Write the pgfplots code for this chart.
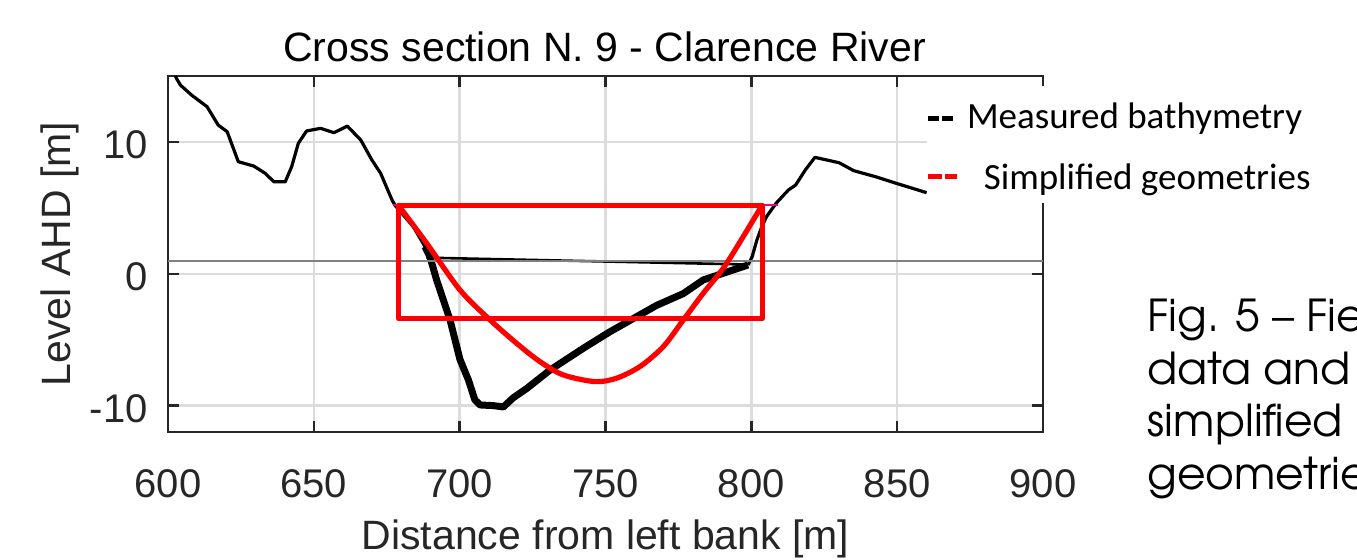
\documentclass[border=0pt]{standalone}
\usepackage{pgfplots}
\pgfplotsset{compat=1.18}
\usepackage{fontspec}
\setmainfont{Liberation Sans}
\newfontfamily\calib{Carlito}
\newfontfamily\gothic{texgyreadventor-regular.otf}
\definecolor{axc}{HTML}{262626}
\definecolor{gridc}{HTML}{DCDCDC}
\begin{document}
\begin{tikzpicture}
\useasboundingbox (0,0) rectangle (678.5pt,280pt);
\begin{scope}
\clip (0,0) rectangle (678.5pt,280pt);
\begin{axis}[
  at={(84pt,64pt)}, anchor=south west,
  scale only axis, width=437.5pt, height=178pt,
  xmin=600, xmax=900, ymin=-12, ymax=15,
  xtick={600,650,700,750,800,850,900}, ytick={-10,0,10},
  xtick pos=both, ytick pos=both,
  grid=major, major grid style={draw=gridc, line width=1.2pt},
  axis line style={draw=axc, line width=1.2pt},
  tick style={draw=axc, line width=1.2pt},
  tick align=inside, major tick length=5.5pt,
  /pgf/number format/assume math mode=true,
  ticklabel style={font=\fontsize{20}{24}\selectfont, text=axc, inner sep=0pt},
  xticklabel style={anchor=base, yshift=-33pt},
  yticklabel style={anchor=east, xshift=-10pt, yshift=-1.5pt},
  clip=true,
]
% measured bathymetry, thin profile
\addplot[black, line width=1.6pt, line join=round] coordinates {
(602.5,15.0) (603.2,14.7) (604.3,14.3) (608.1,13.55) (613.4,12.67) (617.2,11.28)
(620.3,10.77) (624.1,8.5) (629.4,8.17) (633.3,7.62) (636.3,6.98) (640.2,6.98)
(642.4,8.12) (644.7,9.9) (647.5,10.83) (652.3,11.03) (656.9,10.7) (661.5,11.2)
(666.1,10.14) (669.9,8.63) (672.9,7.62) (676.8,5.6) (677.8,5.2) (684.1,3.57)
(688.1,2.06) (689.8,1.3)
};
\addplot[black, line width=1.6pt, line join=round] coordinates {
(798.9,0.67) (800.3,1.3) (801.9,2.56) (803.6,3.57) (805.2,4.33) (808.5,5.35)
(812.7,6.35) (815.2,6.73) (818.5,7.87) (821.8,8.83) (830.1,8.42) (835.1,7.82)
(842.6,7.36) (849.1,6.9) (860.1,6.15)
};
% water surface inside the channel
\addplot[black, line width=1.3pt] coordinates {(688.6,1.22) (798.9,0.7)};
% wetted channel, thick
\addplot[black, line width=3.5pt, line join=round] coordinates {
(688.1,2.06) (689.8,1.3) (692.1,-0.47) (696.7,-3.5) (700.1,-6.5) (703,-8.05)
(705.2,-9.56) (707,-9.95) (711.5,-10.0) (715,-10.1) (718.4,-9.4) (723,-8.7)
(731,-7.3) (742.4,-5.65) (751.5,-4.4) (759.5,-3.4) (767.5,-2.4) (776.7,-1.5)
(783.5,-0.47) (790.4,0.04) (798.9,0.67)
};
% water level
\addplot[color=gray, line width=1pt] coordinates {(600,0.95) (900,0.95)};
% magenta bits
\addplot[magenta, line width=1pt] coordinates {(677,5.2) (679,5.2)};
\addplot[magenta, line width=1pt] coordinates {(803.7,5.2) (809,5.2)};
% simplified geometries
\addplot[red, line width=2.6pt, line join=round] coordinates {
(679,5.2) (803.7,5.2) (803.7,-3.4) (679,-3.4) (679,5.2) (803.7,5.2)
};
\addplot[red, line width=2.6pt, smooth] coordinates {
(679,5.2) (688.7,2.31) (700.1,-1.23) (710.4,-3.5) (719.5,-5.27) (727.5,-6.66)
(735.5,-7.67) (746.4,-8.18) (753.8,-7.92) (761.8,-7.04) (769.8,-5.53)
(776.7,-3.5) (783.5,-1.48) (790.4,0.42) (797.2,2.81) (803.7,5.2)
};
\end{axis}
% titles and labels
\node[anchor=base, text=black, font=\fontsize{20.5}{24}\selectfont] at (302.3pt,249.2pt) {Cross section N. 9 - Clarence River};
\node[anchor=base, text=axc, font=\fontsize{20.5}{24}\selectfont] at (302.8pt,5pt) {Distance from left bank [m]};
\node[anchor=base, rotate=90, text=axc, font=\fontsize{20.5}{24}\selectfont] at (35pt,153pt) {Level AHD [m]};
% slide overlay (legend box)
\fill[white] (463.5pt,178.5pt) rectangle (678.5pt,237pt);
\draw[black, line width=2.5pt] (464.2pt,220.9pt) -- (469.5pt,220.9pt);
\draw[black, line width=2.5pt] (471.2pt,220.9pt) -- (476.4pt,220.9pt);
\draw[red, line width=2.5pt] (464.2pt,191.6pt) -- (470.9pt,191.6pt);
\draw[red, line width=2.5pt] (472.5pt,191.6pt) -- (478.4pt,191.6pt);
\node[anchor=base west, inner sep=0pt, font=\calib\fontsize{18.5}{22}\selectfont] at (483.3pt,215.8pt) {Measured bathymetry};
\node[anchor=base west, inner sep=0pt, font=\calib\fontsize{18.5}{22}\selectfont] at (491.7pt,185pt) {Simplified geometries};
% caption text (cut at the right edge as in the slide)
\node[anchor=base west, inner sep=0pt, font=\gothic\fontsize{22}{26}\selectfont] at (573.5pt,114pt) {Fig. 5 – Field};
\node[anchor=base west, inner sep=0pt, font=\gothic\fontsize{22}{26}\selectfont] at (573.5pt,87.7pt) {data and};
\node[anchor=base west, inner sep=0pt, font=\gothic\fontsize{22}{26}\selectfont] at (573.5pt,61.5pt) {simplified};
\node[anchor=base west, inner sep=0pt, font=\gothic\fontsize{22}{26}\selectfont] at (573.5pt,35.2pt) {geometries};
\end{scope}
\end{tikzpicture}
\end{document}
